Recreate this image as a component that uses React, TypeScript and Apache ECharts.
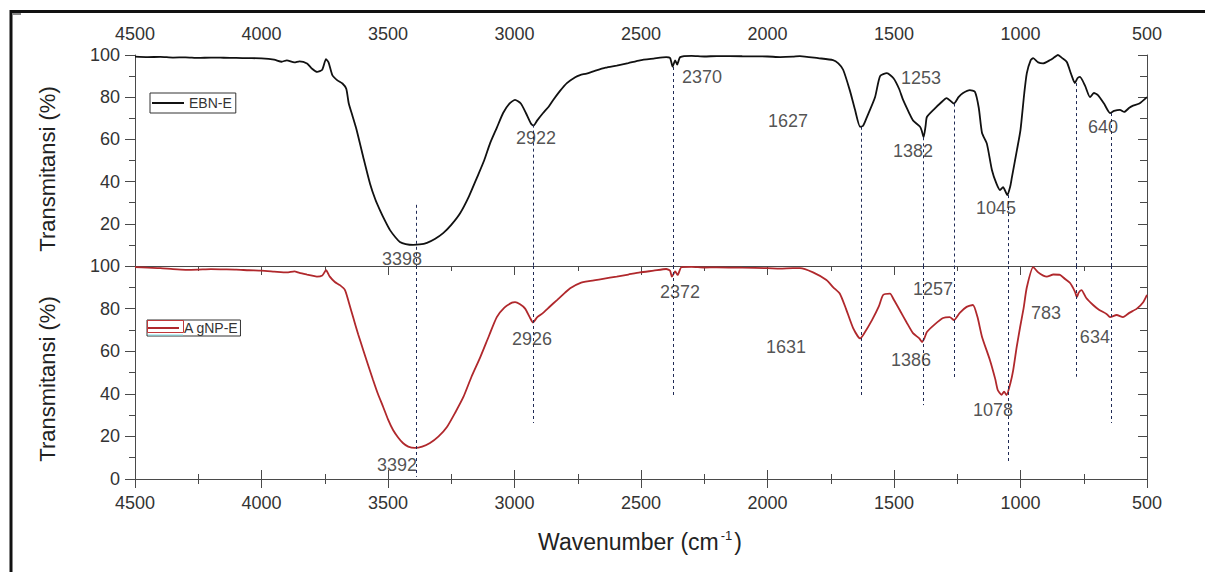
import React, { useEffect, useRef } from 'react';
import * as echarts from 'echarts';

const FONT = "'Liberation Sans', Arial, sans-serif";

// Axis setup
const X_MIN = 500;
const X_MAX = 4500;
const X_STEP = 500;
const Y_MIN = 0;
const Y_MAX = 100;
const Y_STEP = 20;

// EBN-E spectrum (wavenumber cm-1, transmittance %)
const EBN_WN = [4500, 4450, 4400, 4350, 4300, 4250, 4200, 4150, 4100, 4050, 4000, 3950, 3920, 3900, 3870, 3850, 3820, 3800, 3780, 3760, 3745, 3735, 3720, 3700, 3680, 3665, 3655, 3640, 3624, 3598, 3571, 3550, 3532, 3510, 3492, 3470, 3453, 3430, 3401, 3375, 3346, 3315, 3282, 3250, 3215, 3180, 3148, 3120, 3097, 3070, 3045, 3020, 2998, 2975, 2955, 2935, 2925, 2910, 2887, 2865, 2847, 2820, 2793, 2760, 2741, 2715, 2680, 2640, 2596, 2550, 2504, 2450, 2400, 2385, 2375, 2365, 2357, 2345, 2300, 2250, 2200, 2100, 2000, 1950, 1900, 1872, 1800, 1741, 1720, 1701, 1674, 1654, 1634, 1622, 1607, 1575, 1555, 1528, 1502, 1480, 1464, 1440, 1425, 1397, 1390, 1383, 1375, 1370, 1340, 1318, 1292, 1263, 1245, 1227, 1200, 1180, 1165, 1152, 1133, 1113, 1095, 1081, 1069, 1052, 1040, 1034, 1014, 1000, 985, 975, 960, 950, 930, 911, 883, 865, 852, 835, 817, 800, 785, 775, 765, 745, 725, 710, 694, 670, 646, 630, 607, 590, 570, 555, 530, 500];
const EBN_T = [99.2, 99.0, 99.1, 98.8, 98.9, 98.6, 98.8, 98.7, 98.6, 98.5, 98.4, 97.8, 96.8, 97.5, 96.5, 97.0, 96.0, 93.5, 92.0, 93.0, 98.0, 96.5, 90.5, 88.0, 86.5, 84.0, 77.0, 71.0, 64.5, 51.7, 39.0, 31.5, 26.5, 21.0, 17.0, 13.5, 11.4, 10.4, 10.0, 10.2, 11.0, 12.8, 15.6, 19.5, 25.0, 33.0, 42.0, 50.0, 58.0, 65.5, 72.5, 77.0, 78.7, 77.0, 72.5, 67.5, 66.5, 69.0, 72.5, 75.5, 78.7, 83.0, 86.7, 89.5, 90.5, 91.2, 92.6, 94.0, 95.0, 96.2, 97.5, 98.3, 99.0, 98.6, 94.5, 97.5, 95.5, 99.0, 99.6, 99.3, 99.5, 99.4, 99.3, 99.0, 99.2, 99.5, 98.5, 97.6, 96.0, 93.0, 83.0, 74.0, 66.0, 66.5, 70.6, 80.0, 90.0, 91.4, 89.0, 84.0, 78.7, 72.5, 69.0, 66.0, 64.0, 61.0, 66.5, 70.6, 74.5, 77.0, 79.6, 77.0, 80.0, 82.0, 83.4, 82.5, 75.0, 63.0, 58.0, 45.5, 39.0, 36.0, 37.4, 33.6, 38.0, 42.0, 55.0, 64.5, 82.0, 91.4, 97.5, 98.5, 96.5, 96.0, 97.6, 99.0, 100.0, 98.5, 96.7, 91.0, 86.7, 89.0, 89.6, 85.5, 80.0, 82.0, 81.0, 77.0, 72.5, 73.5, 74.0, 73.0, 75.0, 76.0, 77.0, 80.0];

// AgNP-E spectrum
const AG_WN = [4500, 4450, 4400, 4350, 4300, 4250, 4200, 4150, 4100, 4050, 4000, 3950, 3900, 3870, 3850, 3820, 3800, 3781, 3760, 3745, 3730, 3710, 3690, 3670, 3655, 3638, 3618, 3598, 3580, 3559, 3540, 3519, 3500, 3480, 3460, 3441, 3420, 3394, 3365, 3334, 3300, 3267, 3235, 3202, 3170, 3136, 3100, 3070, 3040, 3010, 2998, 2978, 2958, 2940, 2927, 2910, 2887, 2860, 2832, 2800, 2780, 2741, 2700, 2650, 2596, 2550, 2504, 2450, 2400, 2385, 2378, 2365, 2355, 2340, 2300, 2250, 2200, 2100, 2000, 1950, 1900, 1872, 1820, 1767, 1740, 1714, 1690, 1662, 1634, 1620, 1587, 1560, 1543, 1516, 1500, 1476, 1450, 1425, 1400, 1389, 1380, 1370, 1340, 1306, 1280, 1263, 1240, 1213, 1188, 1170, 1152, 1121, 1100, 1090, 1075, 1065, 1055, 1040, 1029, 1015, 1002, 988, 975, 950, 930, 910, 896, 870, 844, 825, 804, 785, 777, 770, 759, 740, 713, 690, 660, 646, 620, 595, 570, 540, 515, 500];
const AG_T = [99.5, 99.2, 99.0, 98.5, 98.2, 98.3, 98.5, 98.4, 98.3, 98.0, 97.8, 97.4, 97.0, 97.5, 96.8, 96.0, 95.5, 95.0, 95.5, 98.0, 95.0, 92.5, 91.0, 88.7, 83.0, 76.0, 68.0, 60.6, 54.0, 46.5, 40.0, 33.8, 28.0, 23.0, 19.5, 16.9, 15.2, 14.6, 15.2, 16.9, 20.0, 24.4, 31.0, 38.5, 48.0, 57.0, 67.5, 76.0, 80.5, 82.8, 83.0, 82.0, 80.0, 76.0, 73.5, 76.0, 78.0, 81.0, 84.0, 87.5, 89.6, 92.0, 93.0, 94.0, 95.0, 96.0, 97.0, 97.8, 98.6, 97.8, 95.0, 97.5, 95.8, 99.5, 99.6, 99.3, 99.4, 99.2, 99.0, 98.8, 99.0, 99.0, 97.0, 93.4, 90.0, 87.0, 80.0, 71.0, 66.0, 68.0, 74.6, 81.0, 86.4, 87.0, 84.0, 79.0, 73.5, 68.5, 66.0, 64.3, 66.0, 69.0, 72.5, 75.6, 76.0, 74.6, 78.0, 80.8, 81.7, 76.0, 66.7, 55.9, 47.0, 41.8, 39.5, 41.0, 39.4, 45.0, 51.0, 62.0, 71.0, 80.0, 90.0, 99.5, 97.0, 95.5, 95.0, 96.0, 95.8, 94.0, 92.0, 88.0, 85.4, 87.5, 88.7, 85.0, 81.7, 79.5, 77.5, 76.0, 77.0, 76.0, 78.0, 80.0, 83.0, 86.4];

// Dotted peak guide lines (shared wavenumber, start in top panel, end in bottom panel)
const PEAK_WN = [3390, 2926, 2372, 1630, 1383, 1260, 1050, 780, 643];
const PEAK_TOP_START = [29, 67, 94.3, 66, 61, 77, 33.6, 86.7, 72.5];
const PEAK_BOTTOM_END = [1, 26.3, 38.5, 38.5, 34.7, 47.9, 7.5, 48, 26.3];

// Peak labels
const TOP_LABEL_TEXT = ['3398', '2922', '2370', '1627', '1253', '1382', '1045', '640'];
const TOP_LABEL_WN = [3445, 2915, 2259, 1919, 1393, 1425, 1097, 674];
const TOP_LABEL_T = [3.3, 60.7, 89.6, 68.7, 89.1, 54.5, 27.5, 65.9];

const BOT_LABEL_TEXT = ['3392', '2926', '2372', '1631', '1257', '1386', '1078', '783', '634'];
const BOT_LABEL_WN = [3464, 2931, 2346, 1927, 1346, 1433, 1109, 899, 706];
const BOT_LABEL_T = [6.6, 65.7, 87.8, 62, 89.2, 55.9, 32.4, 77.9, 66.7];

const SERIES_NAMES = ['EBN-E', 'A gNP-E'];
const Y_TITLE = 'Transmitansi (%)';

export default function App() {
  const ref = useRef<HTMLDivElement>(null);

  useEffect(() => {
    if (!ref.current) return;
    const chart = echarts.init(ref.current, undefined, { renderer: 'svg' });

    const lineCol = '#4a4a4a';
    const axisLine = { show: true, lineStyle: { color: lineCol, width: 1 } };
    const labelStyle = { fontSize: 18, color: '#333', fontFamily: FONT };
    const plain = (v: number) => String(v);

    const xCommon: any = {
      type: 'value',
      min: X_MIN,
      max: X_MAX,
      interval: X_STEP,
      inverse: true,
      splitLine: { show: false },
      axisLine,
      axisTick: { show: true, inside: true, length: 9, lineStyle: { color: lineCol } },
      minorTick: { show: true, splitNumber: 2, length: 5, lineStyle: { color: lineCol } },
    };
    const yCommon: any = {
      type: 'value',
      min: Y_MIN,
      max: Y_MAX,
      interval: Y_STEP,
      splitLine: { show: false },
      axisLine,
    };
    const yLeft = (grid: number, hideMin: boolean) => ({
      ...yCommon,
      gridIndex: grid,
      position: 'left',
      axisTick: { show: true, inside: false, length: 10, lineStyle: { color: lineCol } },
      minorTick: { show: true, splitNumber: 2, length: 6, lineStyle: { color: lineCol } },
      axisLabel: { show: true, showMinLabel: !hideMin, margin: 15, formatter: plain, ...labelStyle },
    });
    const yRight = (grid: number) => ({
      ...yCommon,
      gridIndex: grid,
      position: 'right',
      axisTick: { show: true, inside: true, length: 9, lineStyle: { color: lineCol } },
      minorTick: { show: true, splitNumber: 2, length: 7, lineStyle: { color: lineCol } },
      axisLabel: { show: false },
    });

    const dashStyle = { type: [3, 3], color: '#1f2a55', width: 1 };

    const topLines = PEAK_WN.map((w, i) => [{ coord: [w, PEAK_TOP_START[i]] }, { coord: [w, 0] }]);
    const botLines = PEAK_WN.map((w, i) => [{ coord: [w, 100] }, { coord: [w, PEAK_BOTTOM_END[i]] }]);

    const labelSeries = (xi: number, yi: number, wn: number[], t: number[], txt: string[]) => ({
      type: 'scatter',
      xAxisIndex: xi,
      yAxisIndex: yi,
      symbolSize: 1,
      silent: true,
      itemStyle: { color: 'rgba(0,0,0,0)' },
      label: {
        show: true,
        position: 'inside',
        formatter: '{b}',
        fontSize: 18,
        fontFamily: FONT,
        color: '#262626',
        textBorderWidth: 0,
        textBorderColor: 'transparent',
      },
      data: wn.map((w, i) => ({ value: [w, t[i]], name: txt[i] })),
      z: 5,
    });

    const legendCommon: any = {
      orient: 'horizontal',
      icon: 'rect',
      itemWidth: 32,
      itemHeight: 2,
      itemGap: 0,
      borderColor: '#333',
      borderWidth: 1,
      borderRadius: 0,
      backgroundColor: '#fff',
      selectedMode: false,
      textStyle: { fontSize: 14, color: '#333', fontFamily: FONT, lineHeight: 14 },
    };

    chart.setOption({
      animation: false,
      backgroundColor: '#fff',
      grid: [
        { left: 135, top: 55, width: 1012, height: 211 },
        { left: 135, top: 266, width: 1012, height: 213 },
      ],
      xAxis: [
        { ...xCommon, gridIndex: 0, position: 'top', axisLabel: { show: true, margin: 12, formatter: plain, ...labelStyle } },
        { ...xCommon, gridIndex: 1, position: 'top', axisLabel: { show: false } },
        { ...xCommon, gridIndex: 1, position: 'bottom', axisLabel: { show: true, margin: 15, formatter: plain, ...labelStyle } },
      ],
      yAxis: [yLeft(0, true), yRight(0), yLeft(1, false), yRight(1)],
      legend: [
        { ...legendCommon, data: [SERIES_NAMES[0]], left: 150, top: 93, padding: [3, 4, 3, 2] },
        { ...legendCommon, data: [SERIES_NAMES[1]], left: 147, top: 320, padding: [1, 2, 1, 0] },
      ],
      series: [
        {
          name: SERIES_NAMES[0],
          type: 'line',
          xAxisIndex: 0,
          yAxisIndex: 0,
          data: EBN_WN.map((w, i) => [w, EBN_T[i]]),
          showSymbol: false,
          symbol: 'none',
          smooth: 0.2,
          lineStyle: { color: '#111', width: 1.8 },
          itemStyle: { color: '#111' },
          markLine: { symbol: ['none', 'none'], silent: true, label: { show: false }, lineStyle: dashStyle, data: topLines },
          z: 3,
        },
        {
          name: SERIES_NAMES[1],
          type: 'line',
          xAxisIndex: 2,
          yAxisIndex: 2,
          data: AG_WN.map((w, i) => [w, AG_T[i]]),
          showSymbol: false,
          symbol: 'none',
          smooth: 0.2,
          lineStyle: { color: '#b0282c', width: 1.8 },
          itemStyle: { color: '#b0282c' },
          markLine: { symbol: ['none', 'none'], silent: true, label: { show: false }, lineStyle: dashStyle, data: botLines },
          z: 3,
        },
        labelSeries(0, 0, TOP_LABEL_WN, TOP_LABEL_T, TOP_LABEL_TEXT),
        labelSeries(2, 2, BOT_LABEL_WN, BOT_LABEL_T, BOT_LABEL_TEXT),
      ],
      graphic: [
        {
          type: 'rect',
          shape: { x: 11, y: 11.5, width: 1400, height: 800 },
          style: { fill: 'none', stroke: '#111', lineWidth: 3 },
          silent: true,
        },
        {
          type: 'rect',
          shape: { x: 13, y: 13, width: 8, height: 2 },
          style: { fill: '#888' },
          silent: true,
        },
        {
          type: 'text',
          x: 47,
          y: 169,
          rotation: Math.PI / 2,
          style: { text: Y_TITLE, fontSize: 22, fill: '#222', fontFamily: FONT, align: 'center', verticalAlign: 'middle' },
        },
        {
          type: 'text',
          x: 47,
          y: 379,
          rotation: Math.PI / 2,
          style: { text: Y_TITLE, fontSize: 22, fill: '#222', fontFamily: FONT, align: 'center', verticalAlign: 'middle' },
        },
        {
          type: 'text',
          x: 640,
          y: 542,
          style: {
            text: '{a|Wavenumber (cm}{s|-1}{a|)}',
            fontFamily: FONT,
            fill: '#222',
            align: 'center',
            verticalAlign: 'middle',
            rich: {
              a: { fontSize: 23, fontFamily: FONT, fill: '#222', lineHeight: 26 },
              s: { fontSize: 13, fontFamily: FONT, fill: '#222', verticalAlign: 'top', lineHeight: 26, padding: [0, 2, 0, 2] },
            },
          },
        },
        {
          type: 'rect',
          shape: { x: 147.5, y: 320.5, width: 36, height: 12 },
          style: { fill: 'none', stroke: '#c0393b', lineWidth: 1 },
          silent: true,
          z: 100,
        },
        {
          type: 'line',
          shape: { x1: 148, y1: 335, x2: 183, y2: 335 },
          style: { stroke: '#7fdde6', lineWidth: 1.2 },
          silent: true,
          z: 100,
        },
      ],
    });

    return () => chart.dispose();
  }, []);

  return (
    <div
      ref={ref}
      style={{ position: 'fixed', left: 0, top: 0, width: 1205, height: 572, background: '#fff' }}
    />
  );
}
